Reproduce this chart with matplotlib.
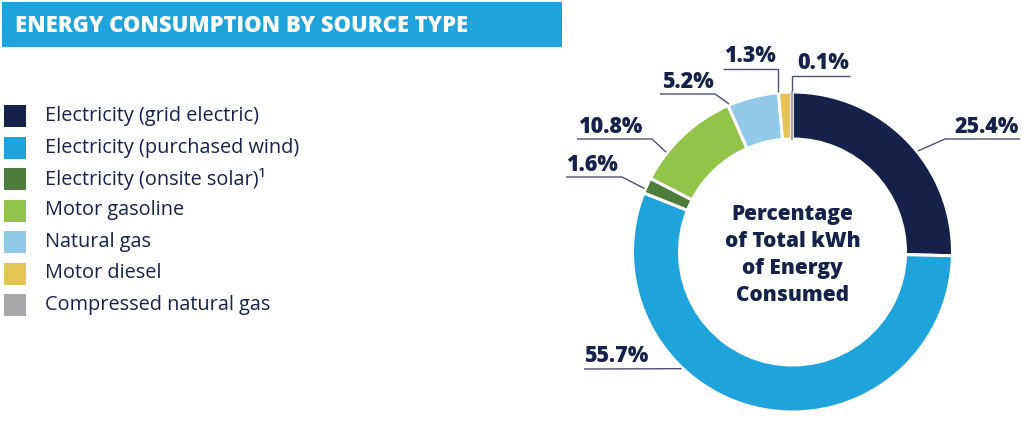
import matplotlib
matplotlib.use('Agg')
import matplotlib.pyplot as plt
from matplotlib.patches import Rectangle
import numpy as np

# data
sources = ['Electricity (grid electric)', 'Electricity (purchased wind)',
           'Electricity (onsite solar)¹', 'Motor gasoline', 'Natural gas',
           'Motor diesel', 'Compressed natural gas']
shares = [25.4, 55.7, 1.6, 10.8, 5.2, 1.3, 0.1]
share_labels = ['25.4%', '55.7%', '1.6%', '10.8%', '5.2%', '1.3%', '0.1%']
colors = ['#16214a', '#1fa3db', '#4e7d3b', '#93c44a', '#93c9e8', '#e3c454', '#a8a8aa']

title = 'ENERGY CONSUMPTION BY SOURCE TYPE'
center_text = 'Percentage\nof Total kWh\nof Energy\nConsumed'

W, H = 1022, 421
NAVY = '#16224a'
LINE = '#4b5272'
FONT = 'Open Sans'

fig = plt.figure(figsize=(W / 100, H / 100), dpi=100)
ax = fig.add_axes([0, 0, 1, 1])


def P(x, y):
    # pixel coords (top-left origin) -> axes data coords
    return x, H - y


# title banner
ax.add_patch(Rectangle(P(2, 47), 560, 45, color='#1fa3db', lw=0))
ax.text(*P(15, 26), title, color='white', fontsize=15.8, fontweight='heavy',
        family=FONT, va='center', ha='left')

# legend
for i, (name, c) in enumerate(zip(sources, colors)):
    y = 116 + i * 31.5
    ax.add_patch(Rectangle(P(4, y + 11), 22, 22, color=c, lw=0))
    ax.text(*P(45, y), name, color=NAVY, fontsize=14.3, family=FONT,
            va='center', ha='left')

# donut
cx, cy, R = 792.5, 252, 160
wedges, _ = ax.pie(shares, colors=colors, startangle=90, counterclock=False,
                   radius=R, center=P(cx, cy),
                   wedgeprops=dict(width=47, edgecolor='white', linewidth=2.2))
wedges[-1].set_edgecolor(colors[-1])
wedges[-1].set_linewidth(1.2)

ax.text(*P(cx, 255), center_text, color=NAVY, fontsize=15, fontweight='heavy',
        family=FONT, ha='center', va='center', linespacing=1.38)

# leader lines: (fraction along wedge, elbow, line end, text anchor, ha)
layout = [
    (0.56, (945, 139), (1020, 139), (1019, 133), 'right'),
    (0.66, None, (584, 369), (584, 362), 'left'),
    (0.27, (622, 177), (566, 177), (566, 171), 'left'),
    (0.28, (652, 139), (577, 139), (578, 133), 'left'),
    (0.03, (715, 94), (660, 94), (662, 88), 'left'),
    (0.0, ('v', 69), (723, 69), (724, 62), 'left'),
    (0.5, ('v', 76), (850, 76), (849, 69), 'right'),
]
for w, lab, (f, elbow, end, tpos, ha) in zip(wedges, share_labels, layout):
    ang = np.deg2rad(w.theta2 - f * (w.theta2 - w.theta1))
    ax_, ay_ = w.center[0] + (R + 1) * np.cos(ang), w.center[1] + (R + 1) * np.sin(ang)
    pts = [(ax_, ay_)]
    if elbow is not None:
        if elbow[0] == 'v':
            pts.append((ax_, H - elbow[1]))
            pts.append((end[0], H - elbow[1]))
        else:
            pts.append(P(*elbow))
            pts.append(P(*end))
    else:
        pts.append(P(*end))
    xs, ys = zip(*pts)
    ax.plot(xs, ys, color=LINE, lw=1.0, solid_capstyle='butt')
    ax.text(*P(*tpos), lab, color=NAVY, fontsize=15.5, fontweight='heavy',
            family=FONT, ha=ha, va='baseline')

ax.set_xlim(0, W)
ax.set_ylim(0, H)
ax.set_aspect('equal')
ax.axis('off')

fig.savefig('out.png', dpi=100)
